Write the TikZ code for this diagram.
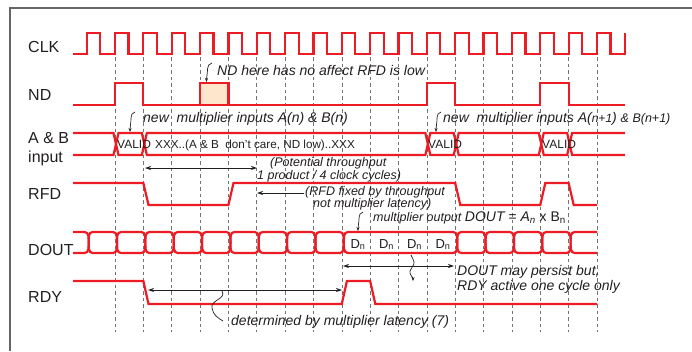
\documentclass[tikz,border=0pt]{standalone}
\usepackage{fontspec}
\setmainfont{Liberation Sans}
\usetikzlibrary{arrows.meta}
\definecolor{sigred}{RGB}{237,28,36}
\definecolor{peach}{RGB}{253,230,204}
\definecolor{ink}{RGB}{35,31,32}
\begin{document}
\begin{tikzpicture}[x=1pt,y=-1pt,
  sig/.style={draw=sigred,line width=2.2pt,line join=miter},
  gridline/.style={draw=black!55,line width=0.6pt,dash pattern=on 3.5pt off 3pt},
  frameline/.style={draw=black!60,line width=1.3pt},
  lbl/.style={anchor=base west,inner sep=0pt,font=\fontsize{16}{18}\selectfont,text=ink},
  bignote/.style={anchor=base west,inner sep=0pt,font=\fontsize{14}{16}\selectfont\itshape,text=ink},
  smallnote/.style={anchor=base west,inner sep=0pt,font=\fontsize{12.5}{14}\selectfont\itshape,text=ink},
  bustext/.style={anchor=base west,inner sep=0pt,font=\fontsize{11.7}{13}\selectfont,text=ink},
  validtext/.style={anchor=base west,inner sep=0pt,font=\fontsize{12}{14}\selectfont,text=ink},
  dntext/.style={anchor=base,inner sep=0pt,font=\fontsize{13}{14}\selectfont,text=ink},
  dimarrow/.style={draw=ink,line width=0.8pt,{Stealth[length=6pt,width=4pt]}-{Stealth[length=6pt,width=4pt]}},
  ptrarrow/.style={draw=ink,line width=0.8pt,-{Stealth[length=6pt,width=4pt]}},
  squig/.style={draw=ink,line width=0.7pt},
  squigarr/.style={squig,-{Stealth[length=4pt,width=3pt]}}
]
\useasboundingbox (0,0) rectangle (692,351);
\fill[white] (0,0) rectangle (692,351);
% frame
\draw[frameline] (10,351) -- (10,8) -- (692,8);
% grid
\foreach \k in {0,...,17} \draw[gridline] ({115+28.35*\k},57) -- ({115+28.35*\k},332);

% labels
\node[lbl] (lclk) at (28,52) {CLK};
\node[lbl] (lnd) at (28,100) {ND};
\node[lbl] (lab) at (28,143) {A \& B};
\node[lbl] (lin) at (28,162) {input};
\node[lbl] (lrfd) at (28,199) {RFD};
\node[lbl] (ldout) at (28,255) {DOUT};
\node[lbl] (lrdy) at (28,302) {RDY};

% CLK
\draw[sig] (73,54) foreach \k in {-1,...,17} { -- ({115+28.35*\k},54) -- ({115+28.35*\k},33) -- ({128.5+28.35*\k},33) -- ({128.5+28.35*\k},54) } -- (625.3,54) -- (625.3,33);

% ND
\draw[sig] (73,105) -- (115,105) -- (115,83) -- (143.35,83) -- (143.35,105) -- (426.85,105) -- (426.85,83) -- (455.2,83) -- (455.2,105) -- (540.25,105) -- (540.25,83) -- (568.6,83) -- (568.6,105) -- (625,105);
\draw[sig,fill=peach] (200.05,83) rectangle (228.4,105);

% A & B bus
\draw[sig] (73,133) -- (113.5,133) -- (116,144) -- (113.5,155) -- (73,155);
\foreach \a/\b in {116/144.35,144.35/427.85,427.85/456.2,456.2/541.25,541.25/569.6}
  \draw[sig] ({\a+2.5},133) -- ({\b-2.5},133) -- (\b,144) -- ({\b-2.5},155) -- ({\a+2.5},155) -- (\a,144) -- cycle;
\draw[sig] (625,133) -- (572.1,133) -- (569.6,144) -- (572.1,155) -- (625,155);
\node[validtext] (v1) at (117,148.5) {VALID};
\node[validtext] (v2) at (428,148.5) {VALID};
\node[validtext] (v3) at (542,148.5) {VALID};
\node[bustext] (xxx) at (155,148.5) {XXX..(A \& B\ \ don't care, ND low)..XXX};

% RFD
\draw[sig] (73,183) -- (143.35,183) -- (148.5,205) -- (228.4,205) -- (233.5,183) -- (455.2,183) -- (460.3,205) -- (540.25,205) -- (545.3,183) -- (568.6,183) -- (573.7,205) -- (597,205);

% DOUT
\draw[sig] (73,232) -- (84.65,232) to[out=0,in=90] (88.65,242.5) to[out=-90,in=0] (84.65,253) -- (73,253);
\foreach \a/\b in {88.65/117,117/145.35,145.35/173.7,173.7/202.05,202.05/230.4,230.4/258.75,258.75/287.1,287.1/315.45,315.45/343.8,343.8/457.2,457.2/485.55,485.55/513.9,513.9/542.25,542.25/570.6}
  \draw[sig] ({\a+4},232) -- ({\b-4},232) to[out=0,in=90] (\b,242.5) to[out=-90,in=0] ({\b-4},253) -- ({\a+4},253) to[out=180,in=-90] (\a,242.5) to[out=90,in=180] cycle;
\draw[sig] (597,232) -- (574.6,232) to[out=180,in=90] (570.6,242.5) to[out=-90,in=180] (574.6,253) -- (597,253);
\foreach \x/\n in {358/d1,386.5/d2,414.5/d3,443/d4}
  \node[dntext] (\n) at (\x,248) {D\textsubscript{n}};

% RDY
\draw[sig] (73,281) -- (143.35,281) -- (148.5,304) -- (341.8,304) -- (346.9,281) -- (370.15,281) -- (375.3,304) -- (597,304);

% notes
\node[bignote] (ndnote) at (217,75) {ND here has no affect RFD is low};
\node[bignote] (newa) at (143,122) {new\ \ multiplier inputs A(n) \& B(n)};
\node[bignote] (newb) at (443,122) {new\ \ multiplier inputs A({\fontsize{12}{13}\selectfont n+1}) {\fontsize{12.5}{13}\selectfont\& B(n+1)}};
\node[smallnote] (pot1) at (270,166) {(Potential throughput};
\node[smallnote] (pot2) at (257,179) {1 product / 4 clock cycles)};
\node[smallnote] (rfd1) at (305,195) {(RFD fixed by throughput};
\node[smallnote] (rfd2) at (313,207) {not multiplier latency)};
\node[smallnote] (mout) at (373,221) {multiplier output \fontsize{14}{16}\selectfont DOUT = A\textsubscript{n} \upshape x B\textsubscript{n}};
\node[bignote] (pers1) at (457,275) {DOUT may persist but,};
\node[bignote] (pers2) at (457,290) {RDY active one cycle only};
\node[bignote] (lat) at (231,325) {determined by multiplier latency (7)};

% arrows
\coordinate (thrL) at (145,168);
\coordinate (thrR) at (257,168);
\draw[dimarrow] (thrL) -- (thrR);
\coordinate (rfdT) at (304,193);
\coordinate (rfdH) at (257,193);
\draw[ptrarrow] (rfdT) -- (rfdH);
\coordinate (persL) at (343,266);
\coordinate (persR) at (454,266);
\draw[dimarrow] (persL) -- (persR);
\coordinate (latL) at (148,290);
\coordinate (latR) at (342,290);
\draw[dimarrow] (latL) -- (latR);

% squiggles
\coordinate (s1a) at (212,63);
\coordinate (s1b) at (206.5,82);
\draw[squigarr] (s1a) to[out=190,in=90] (207.5,69) to[out=-90,in=90] (s1b);
\coordinate (s2a) at (135,112);
\coordinate (s2b) at (130,132);
\draw[squigarr] (s2a) to[out=190,in=90] (131,118) to[out=-90,in=90] (s2b);
\coordinate (s3a) at (441,112);
\coordinate (s3b) at (436,132);
\draw[squigarr] (s3a) to[out=190,in=90] (437,118) to[out=-90,in=90] (s3b);
\coordinate (s4a) at (363,212);
\coordinate (s4b) at (358,231);
\draw[squigarr] (s4a) to[out=190,in=90] (359,218) to[out=-90,in=90] (s4b);
\coordinate (s5a) at (411,255);
\coordinate (s5b) at (413,281);
\draw[squigarr] (s5a) to[out=-70,in=100] (414,262) to[out=-80,in=80] (410,271) to[out=-100,in=90] (s5b);
\coordinate (s6a) at (222,291);
\coordinate (s6b) at (223,321);
\draw[squig] (s6a) .. controls (227,299) and (210,300) .. (212,308) .. controls (213,315) and (218,318) .. (s6b);
\end{tikzpicture}
\end{document}
